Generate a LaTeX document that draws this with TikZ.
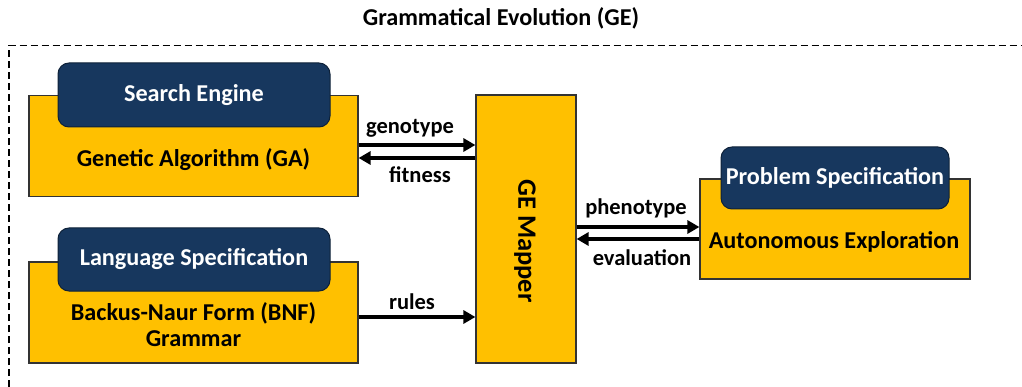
\documentclass[tikz,border=0pt]{standalone}
\usepackage{fontspec}
\setmainfont{Carlito}
\usetikzlibrary{arrows.meta,calc}
\definecolor{gold}{HTML}{FFC000}
\definecolor{navy}{HTML}{17375E}

\begin{document}
\begin{tikzpicture}[x=1pt,y=-1pt,
  every node/.style={font=\fontsize{24.2}{26}\selectfont\bfseries, inner sep=0pt},
  ybox/.style={draw=black!80, line width=1.2pt, fill=gold},
  nbox/.style={draw=navy!60!black, line width=1pt, fill=navy, rounded corners=11pt, text=white},
  arr/.style={line width=3.6pt, -{Triangle[length=12pt,width=13pt]}},
  lbl/.style={text=black},
  clbl/.style={text=black, font=\fontsize{22.5}{26}\selectfont\bfseries}]
\useasboundingbox (0,0) rectangle (1022,387);

% outer dashed frame of the GE system
\draw[dash pattern=on 7pt off 4pt, line width=1.3pt] (9,387) -- (9,45.5) -- (1022,45.5);
\node[lbl] (title) at (501,18) {Grammatical Evolution (GE)};

% search engine block
\node[ybox, minimum width=329pt, minimum height=101pt] (ga) at (193.5,146) {};
\node[nbox, minimum width=272pt, minimum height=64pt] (se) at (194,95) {Search Engine};
\node[lbl] (gatxt) at (193.5,160) {Genetic Algorithm (GA)};

% language specification block
\node[ybox, minimum width=329pt, minimum height=101pt] (bnf) at (193.5,312.5) {};
\node[nbox, minimum width=272pt, minimum height=63pt] (ls) at (194,259.5) {Language Specification};
\node[lbl, align=center] (bnftxt) at (193.5,325) {Backus-Naur Form (BNF)\\Grammar};

% mapper
\node[ybox, minimum width=100pt, minimum height=268pt] (map) at (526,229) {};
\node[lbl, rotate=-90, font=\fontsize{26.5}{30}\selectfont\bfseries] (maptxt) at (525,241) {GE Mapper};

% problem specification block
\node[ybox, minimum width=270pt, minimum height=100pt] (pe) at (835,229) {};
\node[nbox, minimum width=228pt, minimum height=62pt] (ps) at (835,178) {Problem Specification};
\node[lbl] (petxt) at (834,242) {Autonomous Exploration};

% connectors
\draw[arr] ($(ga.east)+(0,-1)$) -- ($(map.west |- ga.east)+(0,-1)$);
\draw[arr] ($(map.west |- ga.east)+(0,12)$) -- ($(ga.east)+(0,12)$);
\draw[arr] ($(bnf.east)+(0,4.5)$) -- ($(map.west |- bnf.east)+(0,4.5)$);
\draw[arr] ($(map.east)+(0,-2)$) -- ($(pe.west)+(0,-2)$);
\draw[arr] ($(pe.west)+(0,10)$) -- ($(map.east)+(0,10)$);

% connector labels
\node[clbl] (lgen) at (410,128) {genotype};
\node[clbl] (lfit) at (420,175) {fitness};
\node[clbl] (lrul) at (412,302) {rules};
\node[clbl] (lphe) at (636,208) {phenotype};
\node[clbl] (leva) at (642,258) {evaluation};
\end{tikzpicture}
\end{document}
